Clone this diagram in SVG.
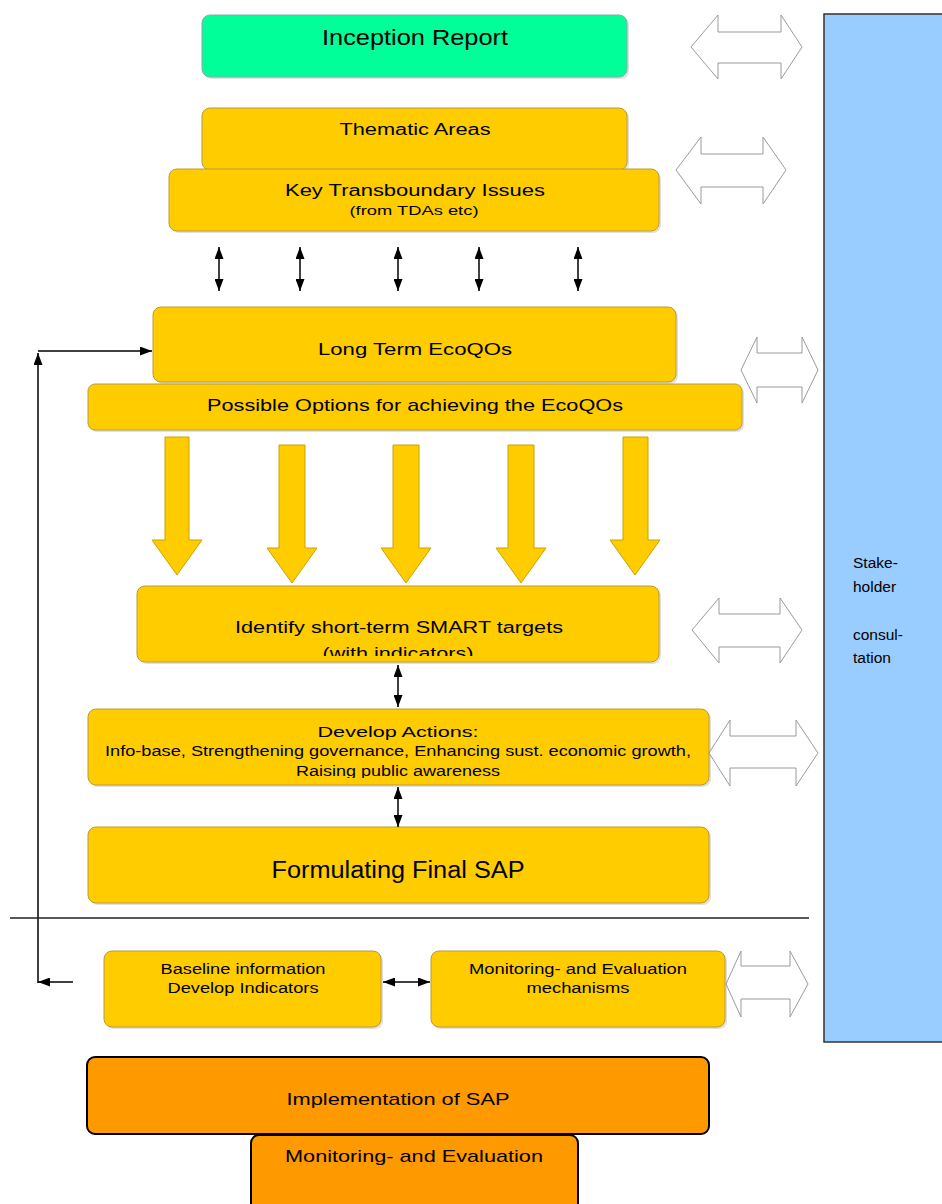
<svg xmlns="http://www.w3.org/2000/svg" width="942" height="1204" viewBox="0 0 942 1204">
<defs>
<style>
text{font-family:"Liberation Sans",Arial,sans-serif;fill:#000;text-anchor:middle}
.y{fill:#FFCC00;stroke:#B89C3A;stroke-width:1}
.o{fill:#FF9900;stroke:#000;stroke-width:2}
.sh{fill:#000;opacity:0.12}
.blk{fill:#FFCC00;stroke:#C9A400;stroke-width:1}
.hol{fill:#fff;stroke:#9a9a9a;stroke-width:1}
.ln{fill:none;stroke:#000;stroke-width:1.5}
.st{font-size:15.5px;text-anchor:start}
</style>
<marker id="ah" viewBox="0 0 12 9" refX="12" refY="4.5" markerWidth="12" markerHeight="9" markerUnits="userSpaceOnUse" orient="auto-start-reverse">
<path d="M0,0 L12,4.5 L0,9 z" fill="#000"/>
</marker>
<clipPath id="c1"><rect x="137" y="586" width="523" height="70"/></clipPath>
<clipPath id="c2"><rect x="88" y="709" width="621" height="69"/></clipPath>
</defs>

<g id="stakeholder">
<rect x="824" y="14" width="130" height="1028" fill="#99CCFF" stroke="#333" stroke-width="1.5"/>
<text x="853" y="568" class="st">Stake-</text>
<text x="853" y="592" class="st">holder</text>
<text x="853" y="640" class="st">consul-</text>
<text x="853" y="663" class="st">tation</text>
</g>

<g id="inception">
<rect x="204" y="17" width="425" height="62" rx="8" class="sh"/>
<rect x="202" y="15" width="425" height="62" rx="8" fill="#00FF99" stroke="#8aa" stroke-width="1"/>
<text x="415" y="45" font-size="22" textLength="186" lengthAdjust="spacingAndGlyphs">Inception Report</text>
</g>

<g id="thematic">
<rect x="204" y="110" width="425" height="62" rx="8" class="sh"/>
<rect x="202" y="108" width="425" height="62" rx="8" class="y"/>
<text x="415" y="135" font-size="16" textLength="151" lengthAdjust="spacingAndGlyphs">Thematic Areas</text>
</g>

<g id="transboundary">
<rect x="171" y="171" width="490" height="62" rx="8" class="sh"/>
<rect x="169" y="169" width="490" height="62" rx="8" class="y"/>
<text x="415" y="196" font-size="16" textLength="260" lengthAdjust="spacingAndGlyphs">Key Transboundary Issues</text>
<text x="414" y="215" font-size="13" textLength="129" lengthAdjust="spacingAndGlyphs">(from TDAs etc)</text>
</g>

<g id="longterm">
<rect x="155" y="309" width="523" height="75" rx="8" class="sh"/>
<rect x="153" y="307" width="523" height="75" rx="8" class="y"/>
<text x="415" y="355" font-size="17" textLength="194" lengthAdjust="spacingAndGlyphs">Long Term EcoQOs</text>
</g>

<g id="options">
<rect x="90" y="386" width="654" height="46" rx="7" class="sh"/>
<rect x="88" y="384" width="654" height="46" rx="7" class="y"/>
<text x="415" y="411" font-size="17" textLength="416" lengthAdjust="spacingAndGlyphs">Possible Options for achieving the EcoQOs</text>
</g>

<g id="smart">
<rect x="139" y="588" width="522" height="76" rx="8" class="sh"/>
<rect x="137" y="586" width="522" height="76" rx="8" class="y"/>
<text x="399" y="633" font-size="16" textLength="328" lengthAdjust="spacingAndGlyphs">Identify short-term SMART targets</text>
<text x="398" y="659" font-size="16" textLength="151" lengthAdjust="spacingAndGlyphs" clip-path="url(#c1)">(with indicators)</text>
</g>

<g id="develop">
<rect x="90" y="711" width="621" height="76" rx="8" class="sh"/>
<rect x="88" y="709" width="621" height="76" rx="8" class="y"/>
<text x="398" y="737" font-size="15" textLength="161" lengthAdjust="spacingAndGlyphs">Develop Actions:</text>
<text x="398" y="756" font-size="14" textLength="586" lengthAdjust="spacingAndGlyphs">Info-base, Strengthening governance, Enhancing sust. economic growth,</text>
<text x="398" y="776" font-size="14" textLength="204" lengthAdjust="spacingAndGlyphs" clip-path="url(#c2)">Raising public awareness</text>
</g>

<g id="formulating">
<rect x="90" y="829" width="621" height="76" rx="8" class="sh"/>
<rect x="88" y="827" width="621" height="76" rx="8" class="y"/>
<text x="398" y="878" font-size="23" textLength="253" lengthAdjust="spacingAndGlyphs">Formulating Final SAP</text>
</g>

<g id="baseline">
<rect x="106" y="953" width="277" height="76" rx="8" class="sh"/>
<rect x="104" y="951" width="277" height="76" rx="8" class="y"/>
<text x="243" y="974" font-size="14" textLength="165" lengthAdjust="spacingAndGlyphs">Baseline information</text>
<text x="243" y="993" font-size="14" textLength="151" lengthAdjust="spacingAndGlyphs">Develop Indicators</text>
</g>

<g id="mechanisms">
<rect x="433" y="953" width="294" height="76" rx="8" class="sh"/>
<rect x="431" y="951" width="294" height="76" rx="8" class="y"/>
<text x="578" y="974" font-size="14" textLength="218" lengthAdjust="spacingAndGlyphs">Monitoring- and Evaluation</text>
<text x="578" y="993" font-size="14" textLength="103" lengthAdjust="spacingAndGlyphs">mechanisms</text>
</g>

<g id="monitoring">
<rect x="251" y="1135" width="327" height="90" rx="8" class="o"/>
<text x="414" y="1162" font-size="17" textLength="258" lengthAdjust="spacingAndGlyphs">Monitoring- and Evaluation</text>
</g>

<g id="implementation">
<rect x="87" y="1057" width="622" height="77" rx="8" class="o"/>
<text x="398" y="1105" font-size="17" textLength="223" lengthAdjust="spacingAndGlyphs">Implementation of SAP</text>
</g>

<g id="connectors">
<line x1="219" y1="247" x2="219" y2="291" class="ln" marker-start="url(#ah)" marker-end="url(#ah)"/>
<line x1="300" y1="247" x2="300" y2="291" class="ln" marker-start="url(#ah)" marker-end="url(#ah)"/>
<line x1="398" y1="247" x2="398" y2="291" class="ln" marker-start="url(#ah)" marker-end="url(#ah)"/>
<line x1="479" y1="247" x2="479" y2="291" class="ln" marker-start="url(#ah)" marker-end="url(#ah)"/>
<line x1="578" y1="247" x2="578" y2="291" class="ln" marker-start="url(#ah)" marker-end="url(#ah)"/>
<line x1="398" y1="665" x2="398" y2="707" class="ln" marker-start="url(#ah)" marker-end="url(#ah)"/>
<line x1="398" y1="787" x2="398" y2="827" class="ln" marker-start="url(#ah)" marker-end="url(#ah)"/>
<line x1="383" y1="982" x2="430" y2="982" class="ln" marker-start="url(#ah)" marker-end="url(#ah)"/>
<line x1="38" y1="983" x2="38" y2="353" class="ln" marker-end="url(#ah)"/>
<line x1="38" y1="351" x2="152" y2="351" class="ln" marker-end="url(#ah)"/>
<line x1="73" y1="982" x2="38" y2="982" class="ln" marker-end="url(#ah)"/>
<line x1="10" y1="918" x2="809" y2="918" stroke="#222" stroke-width="1.5"/>
<polygon class="blk" points="165,437 189,437 189,540 202,540 177,575 152,540 165,540"/>
<polygon class="blk" points="279,445 305,445 305,548 317,548 292,583 267,548 279,548"/>
<polygon class="blk" points="393,445 419,445 419,548 431,548 406,583 381,548 393,548"/>
<polygon class="blk" points="508,445 534,445 534,548 546,548 521,583 496,548 508,548"/>
<polygon class="blk" points="623,437 648,437 648,540 660,540 635,575 610,540 623,540"/>
<polygon class="hol" points="691,47 718,15 718,32 781,32 781,15 802,47 781,79 781,63 718,63 718,79"/>
<polygon class="hol" points="676,170 701,137 701,154 763,154 763,137 786,170 763,204 763,187 701,187 701,204"/>
<polygon class="hol" points="741,370 757,337 757,353 802,353 802,337 818,370 802,403 802,387 757,387 757,403"/>
<polygon class="hol" points="692,630 719,598 719,614 780,614 780,598 802,630 780,663 780,647 719,647 719,663"/>
<polygon class="hol" points="709,753 730,720 730,736 796,736 796,720 818,753 796,786 796,768 730,768 730,786"/>
<polygon class="hol" points="726,984 741,951 741,966 790,966 790,951 808,984 790,1017 790,999 741,999 741,1017"/>
</g>
</svg>
